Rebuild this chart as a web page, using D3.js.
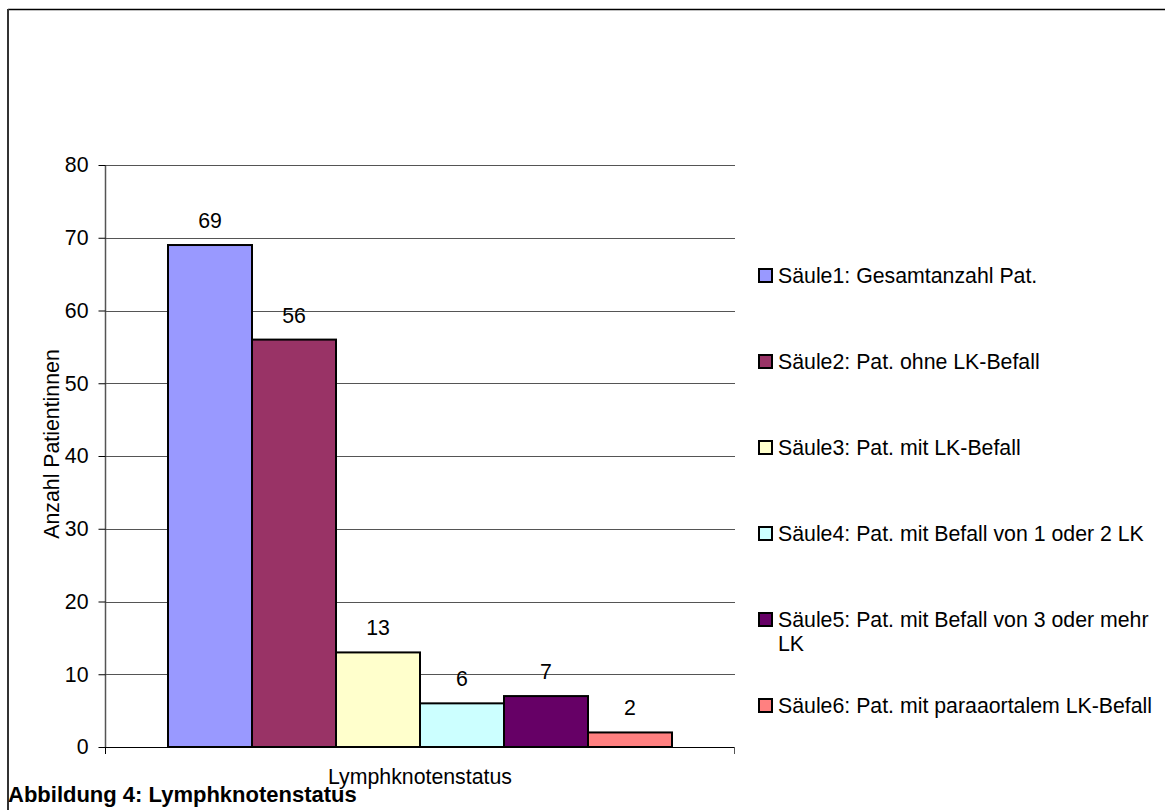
<!DOCTYPE html>
<html>
<head>
<meta charset="utf-8">
<script src="https://cdn.jsdelivr.net/npm/d3@7"></script>
<style>
  html, body { margin: 0; padding: 0; background: #fff; }
  svg { display: block; font-family: "Liberation Sans", Arial, sans-serif; }
</style>
</head>
<body>
<svg id="chart" width="1165" height="810"></svg>
<script>
const categories = ["Lymphknotenstatus"];
const seriesNames = [
  "Säule1: Gesamtanzahl Pat.",
  "Säule2: Pat. ohne LK-Befall",
  "Säule3: Pat. mit LK-Befall",
  "Säule4: Pat. mit Befall von 1 oder 2 LK",
  "Säule5: Pat. mit Befall von 3 oder mehr LK",
  "Säule6: Pat. mit paraaortalem LK-Befall"
];
const seriesValues = [69, 56, 13, 6, 7, 2];
const seriesColors = ["#9999FF", "#993366", "#FFFFCC", "#CCFFFF", "#660066", "#FF8080"];
const yTicks = [0, 10, 20, 30, 40, 50, 60, 70, 80];
const yTitle = "Anzahl Patientinnen";
const caption = "Abbildung 4: Lymphknotenstatus";

const FS = 21.3;
const svg = d3.select("#chart");

// outer border
svg.append("line").attr("x1", 8).attr("y1", 9.5).attr("x2", 1165).attr("y2", 9.5)
  .attr("stroke", "#000").attr("stroke-width", 1.5);
svg.append("line").attr("x1", 8).attr("y1", 9).attr("x2", 8).attr("y2", 810)
  .attr("stroke", "#333").attr("stroke-width", 2);

const plot = { left: 105, right: 735, top: 165, bottom: 747 };

const y = d3.scaleLinear().domain([0, 80]).range([plot.bottom, plot.top]);
const x0 = d3.scaleBand().domain(categories).range([plot.left, plot.right]).padding(0);
const x1 = d3.scaleBand().domain(seriesNames).range([0, x0.bandwidth()])
  .paddingInner(0).paddingOuter(0.75);

// gridlines
svg.append("g").selectAll("line").data(yTicks.filter(d => d > 0)).join("line")
  .attr("x1", plot.left).attr("x2", plot.right)
  .attr("y1", d => Math.round(y(d)) + 0.5).attr("y2", d => Math.round(y(d)) + 0.5)
  .attr("stroke", "#555").attr("stroke-width", 1);

// y axis
const yAxis = d3.axisLeft(y).tickValues(yTicks).tickSize(7).tickPadding(10);
const gy = svg.append("g").attr("transform", `translate(${plot.left + 0.5},0)`).call(yAxis);
gy.select(".domain").attr("stroke", "#555").attr("stroke-width", 1.5)
  .attr("d", `M0,${plot.top}V${plot.bottom}`);
gy.selectAll(".tick line").attr("stroke", "#000");
gy.selectAll(".tick text").attr("font-size", FS).attr("fill", "#000")
  .attr("font-family", "Liberation Sans, Arial, sans-serif");

// bars
const cat = categories[0];
svg.append("g").selectAll("rect").data(seriesNames).join("rect")
  .attr("x", (d) => x0(cat) + x1(d))
  .attr("y", (d, i) => y(seriesValues[i]))
  .attr("width", x1.bandwidth())
  .attr("height", (d, i) => y(0) - y(seriesValues[i]))
  .attr("fill", (d, i) => seriesColors[i])
  .attr("stroke", "#000").attr("stroke-width", 2);

// x axis line
svg.append("line").attr("x1", plot.left).attr("x2", plot.right)
  .attr("y1", plot.bottom + 0.5).attr("y2", plot.bottom + 0.5).attr("stroke", "#000");
svg.append("line").attr("x1", plot.right - 0.5).attr("x2", plot.right - 0.5)
  .attr("y1", plot.bottom).attr("y2", plot.bottom + 7).attr("stroke", "#555");
svg.append("line").attr("x1", plot.left + 0.5).attr("x2", plot.left + 0.5)
  .attr("y1", plot.bottom).attr("y2", plot.bottom + 7).attr("stroke", "#000");

// value labels
svg.append("g").selectAll("text").data(seriesNames).join("text")
  .attr("x", d => x0(cat) + x1(d) + x1.bandwidth() / 2)
  .attr("y", (d, i) => y(seriesValues[i]) - 17)
  .attr("text-anchor", "middle").attr("font-size", FS).attr("fill", "#000")
  .text((d, i) => seriesValues[i]);

// category label
svg.append("text").attr("x", x0(cat) + x0.bandwidth() / 2).attr("y", 784)
  .attr("text-anchor", "middle").attr("font-size", FS).text(cat);

// y title
svg.append("text").attr("transform", "translate(59,444) rotate(-90)")
  .attr("text-anchor", "middle").attr("font-size", FS).text(yTitle);

// legend
const legendY = d3.scalePoint().domain(seriesNames).range([283, 713]);
const lg = svg.append("g").selectAll("g").data(seriesNames).join("g")
  .attr("transform", d => `translate(759,${legendY(d)})`);
lg.append("rect").attr("x", 0).attr("y", -14).attr("width", 13).attr("height", 13)
  .attr("fill", (d, i) => seriesColors[i]).attr("stroke", "#000").attr("stroke-width", 2);
lg.each(function(d) {
  const t = d3.select(this).append("text").attr("x", 19).attr("y", 0).attr("font-size", FS);
  if (d.indexOf("3 oder mehr LK") >= 0) {
    t.append("tspan").attr("x", 19).attr("dy", 0).text(d.replace(" LK", ""));
    t.append("tspan").attr("x", 19).attr("dy", 24).text("LK");
  } else {
    t.text(d);
  }
});

// caption
svg.append("text").attr("x", 8).attr("y", 802).attr("font-size", 22)
  .attr("font-weight", "bold").text(caption);
</script>
</body>
</html>
